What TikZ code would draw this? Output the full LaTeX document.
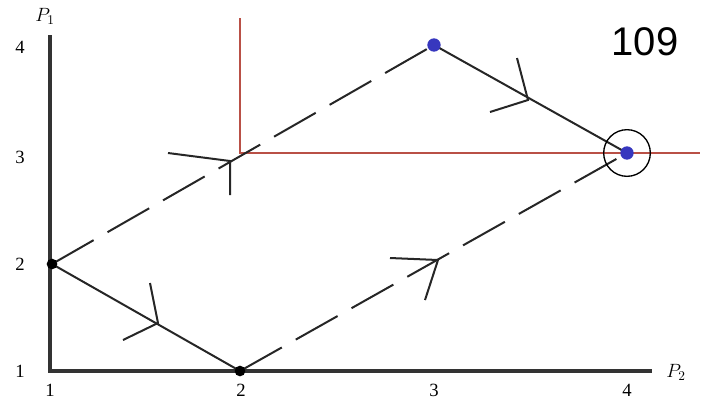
\documentclass[tikz,border=0pt]{standalone}
\usepackage{fontspec}
\setmainfont{Liberation Serif}
\newfontfamily\labelsans{Liberation Sans}
\usetikzlibrary{calc}
\definecolor{dotblue}{RGB}{55,55,190}
\definecolor{redline}{RGB}{185,80,70}
\begin{document}
\begin{tikzpicture}[x=0.75pt,y=-0.75pt,
  axisline/.style={line width=3pt,line join=miter,black!80},
  solidline/.style={line width=1.5pt,black!85},
  dashline/.style={line width=1.5pt,black!85,dash pattern=on 36pt off 12pt},
  redl/.style={line width=1pt,redline},
  chev/.style={line width=1.5pt,black!85},
  bdot/.style={circle,fill=black,inner sep=0pt,minimum size=8pt},
  bldot/.style={circle,fill=dotblue,inner sep=0pt,minimum size=10pt},
  ticklab/.style={font=\fontsize{14}{14}\selectfont,inner sep=0pt}]
\path[use as bounding box] (0,0) rectangle (702,401);
% axes
\coordinate (O) at (50,371);
\coordinate (ytop) at (50,35);
\coordinate (xend) at (652,371);
\draw[axisline] (ytop) -- (O) -- (xend);
\node[ticklab] (p1) at (45,16) {$P_{1}$};
\node[ticklab] (p2) at (676,372) {$P_{2}$};
% tick labels
\node[ticklab] (x1) at (50,390) {1};
\node[ticklab] (x2) at (241,390) {2};
\node[ticklab] (x3) at (434,390) {3};
\node[ticklab] (x4) at (627,390) {4};
\node[ticklab] (y1) at (20,371) {1};
\node[ticklab] (y2) at (20,264) {2};
\node[ticklab] (y3) at (20,157) {3};
\node[ticklab] (y4) at (20,47) {4};
% red lines
\coordinate (corner) at (240,153);
\coordinate (rtop) at (240,18);
\coordinate (rright) at (700,153);
\draw[redl] (rtop) -- (corner) -- (rright);
% points
\coordinate (A) at (52,264);
\coordinate (B) at (240,371);
\coordinate (C) at (434,45);
\coordinate (D) at (627,153);
\draw[solidline] (A) -- (B);
\draw[solidline] (C) -- (D);
\draw[dashline] (A) -- (C);
\draw[dashline] (B) -- (D);
\node[bdot] (Ad) at (A) {};
\node[bdot] (Bd) at (B) {};
\node[bldot] (Cd) at (C) {};
\node[bldot] (Dd) at (D) {};
\node[circle,draw=black,line width=1pt,minimum size=35pt,inner sep=0pt] (ring) at (D) {};
% chevrons
\coordinate (t1) at (158,323);
\coordinate (t2) at (230,161);
\coordinate (t3) at (438,260);
\coordinate (t4) at (528,100);
\draw[chev] ($(t1)+(-8,-40)$) -- (t1) -- ++(-35,17);
\draw[chev] ($(t2)+(-62,-8)$) -- (t2) -- ++(0,34);
\draw[chev] ($(t3)+(-48,-2)$) -- (t3) -- ++(-13,40);
\draw[chev] ($(t4)+(-11,-42)$) -- (t4) -- ++(-38,12);
% label
\node[font=\labelsans\fontsize{30}{30}\selectfont,inner sep=0pt] (num) at (645,42) {109};
\end{tikzpicture}
\end{document}
